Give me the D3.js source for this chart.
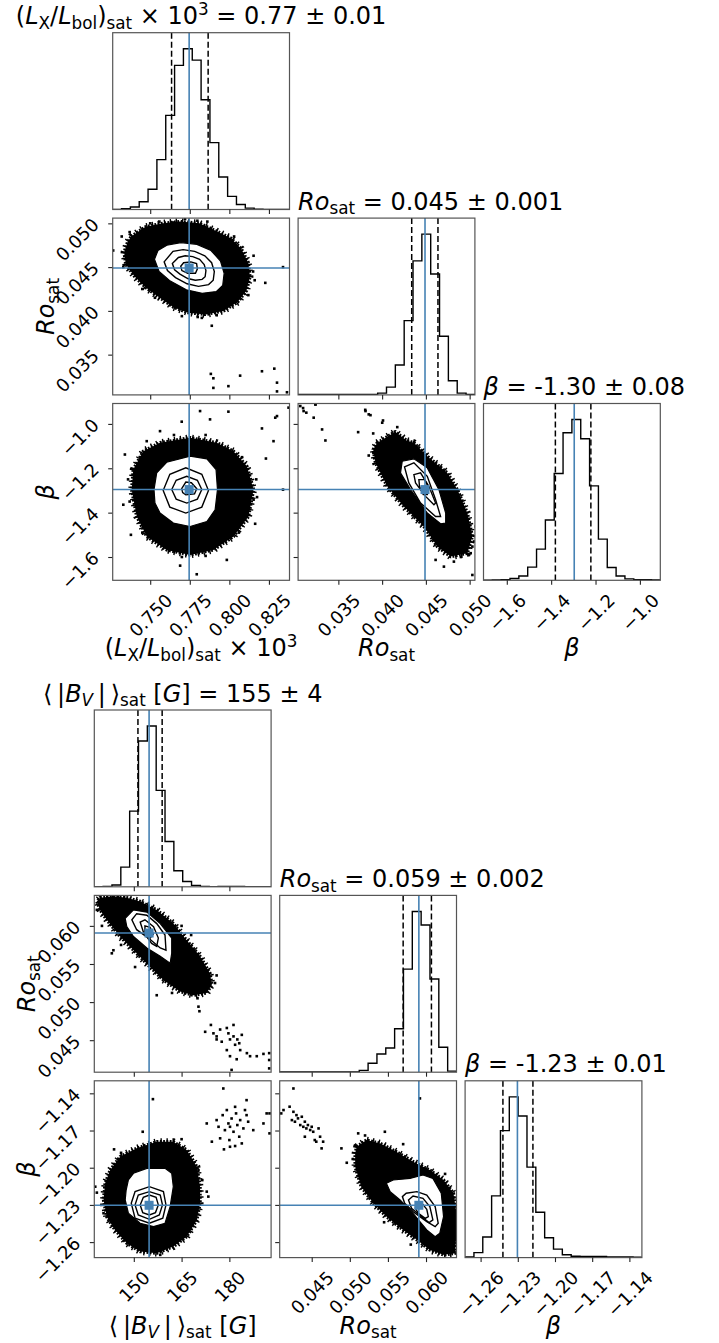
<!DOCTYPE html>
<html>
<head>
<meta charset="utf-8">
<script src="https://cdn.jsdelivr.net/npm/d3@7"></script>
<style>
  body { margin: 0; background: #fff; }
  svg { display: block; }
  text { font-family: 'DejaVu Sans', sans-serif; fill: #000; }
</style>
</head>
<body>
<svg id="chart" width="719" height="1343"></svg>
<script>
// Two corner plots (MCMC posteriors): saturated Lx/Lbol, Ro_sat, beta  /  <|B_V|>_sat, Ro_sat, beta

// ---------- top corner ----------
const rangeTop = [[0.7263, 0.8380], [0.0304, 0.0506], [-1.705, -0.908]];
const ticksTop = [[0.750, 0.775, 0.800, 0.825], [0.035, 0.040, 0.045, 0.050], [-1.6, -1.4, -1.2, -1.0]];
const tickTextTop = [["0.750", "0.775", "0.800", "0.825"], ["0.035", "0.040", "0.045", "0.050"], ["−1.6", "−1.4", "−1.2", "−1.0"]];
const histTopLx = [0, 2, 7, 22, 57, 141, 266, 407, 454, 422, 310, 189, 92, 37, 14, 4, 1, 0, 0, 0];
const histTopRo = [1, 1, 1, 1, 1, 1, 1, 1, 1, 5, 22, 84, 209, 377, 452, 340, 165, 40, 5, 1];
const histTopBeta = [0, 1, 2, 5, 12, 37, 88, 170, 301, 416, 453, 399, 266, 116, 36, 12, 4, 2, 2, 1];
const quantTop = [[0.7635, 0.7866], [0.04338, 0.04638], [-1.381, -1.221]];
const truthTop = [0.7746, 0.0449, -1.296];

const cloudTopLxRo = [[0.738,0.0485],[0.747,0.0496],[0.758,0.0500],[0.769,0.0502],[0.781,0.0500],[0.792,0.0491],[0.801,0.0483],[0.8075,0.0471],[0.812,0.0455],[0.813,0.0439],[0.8108,0.0423],[0.8052,0.0410],[0.7963,0.0400],[0.7851,0.0396],[0.7739,0.0398],[0.7649,0.0404],[0.756,0.0415],[0.747,0.0427],[0.7403,0.0439],[0.7346,0.0453],[0.7335,0.0467],[0.7358,0.0479]];
const whiteTopLxRo = [[0.7527,0.0459],[0.7549,0.0469],[0.7605,0.0475],[0.7694,0.0478],[0.7795,0.0476],[0.7884,0.0469],[0.7944,0.0457],[0.7967,0.0443],[0.7958,0.0429],[0.7917,0.0422],[0.7828,0.0420],[0.7728,0.0424],[0.7627,0.0434],[0.7556,0.0445]];
const contTopLxRo = [
  [[0.7588,0.0456],[0.7644,0.0468],[0.7708,0.0470],[0.7781,0.0468],[0.7845,0.0463],[0.7888,0.0455],[0.7905,0.0445],[0.7898,0.0435],[0.7869,0.0430],[0.7805,0.0428],[0.7733,0.0431],[0.7660,0.0438],[0.7609,0.0446]],
  [[0.7640,0.0454],[0.7678,0.0461],[0.7721,0.0463],[0.7769,0.0462],[0.7812,0.0459],[0.7841,0.0453],[0.7852,0.0446],[0.7847,0.0439],[0.7828,0.0436],[0.7785,0.0435],[0.7737,0.0437],[0.7688,0.0442],[0.7654,0.0447]],
  [[0.7693,0.0451],[0.7711,0.0455],[0.7757,0.0456],[0.7793,0.0454],[0.7798,0.0448],[0.7786,0.0443],[0.7737,0.0443],[0.7700,0.0446]]
];
const ptsTopLxRo = [[0.7883,0.0328],[0.7899,0.0323],[0.7994,0.0314],[0.8068,0.0326],[0.8206,0.0331],[0.8284,0.0334],[0.8301,0.0318],[0.7899,0.0312],[0.8364,0.0307],[0.8301,0.0308],[0.8339,0.0450],[0.8227,0.0432],[0.8153,0.0463],[0.7889,0.0383],[0.7826,0.0392],[0.7646,0.0501],[0.7798,0.0503],[0.7861,0.0502],[0.7558,0.0502],[0.7320,0.0485],[0.7266,0.0469],[0.7370,0.0490],[0.8150,0.0445],[0.8160,0.0435],[0.8120,0.0418],[0.7920,0.0395],[0.7800,0.0393],[0.7700,0.0394],[0.7530,0.0415],[0.7450,0.0425],[0.7330,0.0450],[0.8030,0.0485],[0.7720,0.0505],[0.7500,0.0500]];

const cloudTopLxBeta = [[0.7393,-1.2059],[0.7456,-1.1231],[0.7562,-1.0851],[0.7752,-1.0624],[0.7921,-1.0851],[0.8026,-1.1231],[0.8111,-1.1910],[0.8153,-1.2964],[0.8121,-1.4172],[0.8026,-1.5077],[0.7899,-1.5679],[0.7752,-1.5905],[0.7604,-1.5679],[0.7478,-1.5077],[0.7415,-1.4172],[0.7383,-1.2964]];
const whiteTopLxBeta = [[0.7524,-1.2964],[0.7541,-1.2208],[0.7604,-1.1729],[0.7752,-1.1457],[0.7858,-1.1575],[0.7916,-1.2059],[0.7925,-1.2964],[0.7910,-1.3869],[0.7858,-1.4398],[0.7752,-1.4624],[0.7646,-1.4471],[0.7562,-1.4018],[0.7530,-1.3566]];
const contTopLxBeta = [
  [[0.7582,-1.300],[0.7624,-1.227],[0.7725,-1.198],[0.7826,-1.227],[0.7868,-1.300],[0.7826,-1.375],[0.7725,-1.402],[0.7624,-1.375]],
  [[0.7636,-1.296],[0.7664,-1.254],[0.7731,-1.236],[0.7798,-1.254],[0.7826,-1.296],[0.7798,-1.339],[0.7731,-1.357],[0.7664,-1.339]],
  [[0.7699,-1.292],[0.7725,-1.262],[0.7760,-1.265],[0.7794,-1.292],[0.7780,-1.315],[0.7725,-1.320],[0.7705,-1.310]]
];
const ptsTopLxBeta = [[0.7815,-0.9421],[0.7878,-0.9796],[0.7994,-0.9448],[0.7699,-0.9900],[0.8290,-0.9719],[0.8301,-0.9647],[0.8374,-0.9267],[0.8206,-1.0204],[0.8279,-1.0778],[0.8231,-1.1561],[0.8339,-1.2964],[0.8153,-1.3416],[0.8163,-1.4502],[0.7984,-1.6131],[0.7794,-1.6778],[0.7689,-1.6389],[0.7330,-1.3643],[0.7378,-1.5000],[0.7478,-1.0778],[0.7562,-1.0326],[0.7340,-1.1380],[0.7360,-1.2500],[0.7370,-1.3500],[0.8170,-1.2500],[0.8175,-1.3300],[0.7650,-1.0500],[0.7850,-1.0500],[0.7700,-1.6000],[0.7850,-1.5950],[0.7440,-1.1500],[0.8080,-1.1500],[0.8060,-1.4900],[0.7450,-1.4900]];

const cloudTopRoBeta = [[0.03944,-1.0851],[0.0400,-1.072],[0.0415,-1.035],[0.0428,-1.075],[0.04363,-1.0851],[0.04516,-1.1457],[0.04745,-1.2208],[0.04860,-1.2964],[0.04974,-1.4018],[0.05031,-1.5077],[0.04974,-1.5828],[0.04783,-1.5982],[0.04631,-1.5529],[0.04477,-1.4624],[0.04248,-1.3719],[0.04058,-1.2814],[0.03924,-1.1756],[0.03898,-1.1154]];
const whiteTopRoBeta = [[0.0423,-1.1683],[0.04363,-1.1575],[0.04516,-1.1982],[0.04649,-1.2964],[0.04726,-1.4018],[0.04726,-1.4471],[0.04668,-1.4502],[0.04516,-1.4018],[0.04325,-1.2964],[0.0421,-1.2208]];
const contTopRoBeta = [
  [[0.04256,-1.1937],[0.04363,-1.1756],[0.04516,-1.2362],[0.04611,-1.3416],[0.04668,-1.4172],[0.04611,-1.4172],[0.04439,-1.3566],[0.04305,-1.2661]],
  [[0.04363,-1.2285],[0.04439,-1.2208],[0.04534,-1.2814],[0.04611,-1.3566],[0.04592,-1.3643],[0.04497,-1.3267],[0.04382,-1.2661]],
  [[0.04420,-1.2511],[0.04485,-1.2511],[0.04534,-1.2887],[0.04516,-1.3190],[0.04470,-1.3190],[0.04427,-1.2814]]
];
const ptsTopRoBeta = [[0.03065,-0.9195],[0.03103,-0.9421],[0.03134,-0.9493],[0.03237,-0.9118],[0.03218,-0.9719],[0.03314,-1.0249],[0.03352,-1.0747],[0.03726,-1.0371],[0.03810,-0.9421],[0.03847,-0.9570],[0.04001,-0.9946],[0.03847,-1.1425],[0.03898,-1.0430],[0.04173,-1.0145],[0.05069,-1.4624],[0.05031,-1.6810],[0.04706,-1.6434],[0.04611,-1.6131],[0.04820,-1.6208],[0.05012,-1.5828],[0.05031,-1.5530],[0.03097,-0.9286],[0.03239,-0.9126],[0.03807,-0.9366],[0.03867,-0.9606],[0.0401,-0.9846],[0.0390,-1.1300],[0.0505,-1.5300],[0.0490,-1.6000]];

// ---------- bottom corner ----------
const rangeBot = [[137.6, 193.1], [0.0408, 0.0640], [-1.2725, -1.1299]];
const ticksBot = [[150, 165, 180], [0.045, 0.050, 0.055, 0.060], [-1.26, -1.23, -1.20, -1.17, -1.14]];
const tickTextBot = [["150", "165", "180"], ["0.045", "0.050", "0.055", "0.060"], ["−1.26", "−1.23", "−1.20", "−1.17", "−1.14"]];
const histBotBv = [0, 1, 5, 55, 212, 408, 450, 270, 127, 45, 15, 4, 1, 0.5, 1, 1, 1, 0.5, 0, 0];
const histBotRo = [1, 1, 1, 1, 1, 1, 1, 1, 1, 5, 25, 51, 68, 122, 290, 452, 414, 262, 70, 3];
const histBotBeta = [2, 14, 58, 174, 358, 453, 399, 255, 128, 56, 24, 8, 4, 3, 3, 3, 2, 2, 2, 1];
const quantBot = [[151.3, 158.9], [0.05700, 0.06071], [-1.2420, -1.2178]];
const truthBot = [154.8, 0.05906, -1.2303];

const cloudBotBvRo = [[139.4,0.0637],[143.6,0.0639],[147.8,0.0637],[152.0,0.0632],[157.2,0.0621],[162.4,0.0603],[166.6,0.0581],[170.8,0.0560],[173.9,0.0538],[174.5,0.0523],[172.9,0.0512],[168.7,0.0509],[164.5,0.0514],[159.3,0.0529],[155.1,0.0546],[150.9,0.0564],[145.7,0.0586],[141.5,0.0608],[139.4,0.0621],[138.4,0.0632]];
const whiteBotBvRo = [[147.3,0.0610],[149.9,0.0621],[154.1,0.0618],[158.3,0.0603],[161.9,0.0584],[161.9,0.0564],[161.4,0.0551],[158.3,0.0560],[154.1,0.0571],[149.9,0.0586],[147.8,0.0599]];
const contBotBvRo = [
  [[149.4,0.0608],[150.9,0.0616],[154.1,0.0614],[157.2,0.0603],[159.8,0.0588],[160.1,0.0568],[158.3,0.0571],[154.6,0.0584],[150.9,0.0595]],
  [[152.0,0.0605],[153.5,0.0608],[156.2,0.0599],[157.7,0.0584],[157.2,0.0573],[155.6,0.0577],[153.0,0.0592]],
  [[153.5,0.0600],[155.1,0.0598],[156.1,0.0589],[155.1,0.0584],[153.5,0.0591]]
];
const ptsBotBvRo = [[174.2,0.0470],[175.0,0.0459],[176.0,0.0451],[177.1,0.0464],[177.6,0.0448],[179.2,0.0466],[179.7,0.0459],[180.2,0.0451],[181.3,0.0455],[181.8,0.0444],[182.5,0.0451],[183.1,0.0446],[183.4,0.0437],[179.2,0.0437],[180.2,0.0429],[182.3,0.0425],[185.5,0.0433],[186.5,0.0429],[188.6,0.0429],[190.7,0.0432],[192.5,0.0433],[192.5,0.0424],[192.5,0.0413],[180.7,0.0411],[176.0,0.0455],[183.9,0.0457],[181.3,0.0470],[172.4,0.0461],[143.6,0.0568],[143.1,0.0564],[150.4,0.0546],[157.2,0.0509],[170.3,0.0494],[170.6,0.0488],[173.9,0.0523],[173.4,0.0533],[138.4,0.0621],[176.0,0.0535],[175.5,0.0525],[170.0,0.0505],[162.0,0.0512],[146.0,0.0575],[140.0,0.0600],[165.0,0.0600],[168.0,0.0588]];

const cloudBotBvBeta = [[142.6,-1.2019],[145.7,-1.1911],[150.9,-1.1844],[157.2,-1.1791],[162.4,-1.1791],[166.6,-1.1857],[169.8,-1.1992],[170.8,-1.2153],[170.8,-1.2287],[169.8,-1.2421],[166.6,-1.2556],[162.4,-1.2636],[157.2,-1.2689],[152.0,-1.2676],[147.8,-1.2609],[144.1,-1.2502],[141.5,-1.2395],[140.5,-1.2260],[141.0,-1.2126]];
const whiteBotBvBeta = [[148.3,-1.2099],[149.9,-1.2045],[154.1,-1.2005],[159.8,-1.2005],[161.9,-1.2045],[162.4,-1.2153],[161.4,-1.2314],[159.8,-1.2448],[156.2,-1.2475],[152.0,-1.2448],[148.3,-1.2367],[147.3,-1.2260],[147.6,-1.2180]];
const contBotBvBeta = [
  [[149.2,-1.2287],[150.4,-1.2193],[154.9,-1.2153],[159.3,-1.2193],[160.1,-1.2300],[159.1,-1.2407],[154.9,-1.2448],[150.4,-1.2407]],
  [[150.4,-1.2300],[151.4,-1.2220],[154.9,-1.2193],[158.3,-1.2220],[159.0,-1.2300],[158.0,-1.2381],[154.9,-1.2416],[151.4,-1.2381]],
  [[152.0,-1.2300],[153.0,-1.2238],[154.9,-1.2220],[157.0,-1.2238],[157.7,-1.2300],[156.8,-1.2362],[154.9,-1.2381],[152.8,-1.2362]]
];
const ptsBotBvBeta = [[172.9,-1.1643],[174.5,-1.1790],[176.0,-1.1616],[176.6,-1.1670],[177.1,-1.1763],[177.9,-1.1576],[178.3,-1.1852],[178.6,-1.1697],[179.2,-1.1535],[179.7,-1.1643],[180.0,-1.1777],[180.2,-1.1670],[180.7,-1.1603],[181.3,-1.1710],[181.8,-1.1509],[182.1,-1.1562],[182.5,-1.1656],[183.1,-1.1750],[183.4,-1.1616],[183.9,-1.1804],[184.4,-1.1683],[184.9,-1.1535],[185.4,-1.1576],[185.9,-1.1629],[187.5,-1.1697],[190.7,-1.1643],[191.7,-1.1562],[192.6,-1.1562],[192.6,-1.1723],[178.1,-1.1361],[185.4,-1.1455],[181.8,-1.1825],[180.2,-1.1831],[156.0,-1.1447],[152.8,-1.1710],[143.8,-1.1852],[137.9,-1.2153],[138.4,-1.2201],[140.5,-1.2367],[170.3,-1.2019],[173.4,-1.2233],[172.9,-1.2193],[158.3,-1.2703],[146.0,-1.1880],[165.0,-1.1770],[171.5,-1.2100],[139.8,-1.2300]];

const cloudBotRoBeta = [[0.0509,-1.1831],[0.0522,-1.1777],[0.0540,-1.1804],[0.0561,-1.1871],[0.0583,-1.1951],[0.0605,-1.2019],[0.0623,-1.2099],[0.0636,-1.2206],[0.0640,-1.2368],[0.0640,-1.2529],[0.0638,-1.2690],[0.0623,-1.2703],[0.0605,-1.2663],[0.0588,-1.2582],[0.0570,-1.2502],[0.0548,-1.2394],[0.0531,-1.2287],[0.0515,-1.2153],[0.0507,-1.1992],[0.0507,-1.1884]];
const whiteBotRoBeta = [[0.0548,-1.2126],[0.0557,-1.2099],[0.0579,-1.2086],[0.0596,-1.2059],[0.0609,-1.2086],[0.0620,-1.2206],[0.0623,-1.2394],[0.0618,-1.2529],[0.0612,-1.2556],[0.0601,-1.2502],[0.0583,-1.2368],[0.0566,-1.2260],[0.0553,-1.2193]];
const contBotRoBeta = [
  [[0.0569,-1.2233],[0.0574,-1.2206],[0.0588,-1.2193],[0.0601,-1.2220],[0.0612,-1.2314],[0.0616,-1.2448],[0.0612,-1.2475],[0.0601,-1.2435],[0.0583,-1.2354],[0.0572,-1.2287]],
  [[0.0577,-1.2260],[0.0583,-1.2228],[0.0596,-1.2247],[0.0605,-1.2314],[0.0609,-1.2421],[0.0604,-1.2443],[0.0594,-1.2394],[0.0581,-1.2327]],
  [[0.0587,-1.2287],[0.0594,-1.2282],[0.0601,-1.2335],[0.0603,-1.2394],[0.0599,-1.2408],[0.0590,-1.2368],[0.0586,-1.2327]]
];
const ptsBotRoBeta = [[0.0410,-1.1562],[0.0421,-1.1508],[0.0424,-1.1616],[0.0426,-1.1549],[0.0428,-1.1629],[0.0430,-1.1576],[0.0432,-1.1602],[0.0435,-1.1656],[0.0437,-1.1589],[0.0439,-1.1670],[0.0441,-1.1629],[0.0443,-1.1683],[0.0445,-1.1656],[0.0448,-1.1696],[0.0450,-1.1670],[0.0452,-1.1710],[0.0454,-1.1777],[0.0456,-1.1790],[0.0459,-1.1683],[0.0461,-1.1750],[0.0463,-1.1844],[0.0465,-1.1790],[0.0441,-1.1750],[0.0426,-1.1361],[0.0413,-1.1535],[0.0489,-1.1844],[0.0496,-1.1960],[0.0511,-1.1723],[0.0546,-1.1710],[0.0592,-1.1441],[0.0640,-1.2421],[0.0504,-1.1930],[0.0520,-1.1740],[0.0570,-1.1810],[0.0625,-1.2050],[0.0545,-1.2440],[0.0580,-1.2620]];

// ---------- labels (math segments: i = italic, sub/isub = subscript, sup = superscript) ----------
const labLx = [["("], ["L", "i"], ["X", "sub"], ["/"], ["L", "i"], ["bol", "sub"], [")"], ["sat", "sub"], [" × 10"], ["3", "sup"]];
const labRo = [["Ro", "i"], ["sat", "sub"]];
const labBeta = [["β", "i"]];
const labBv = [["⟨\u2009|"], ["B", "i"], ["V", "isub"], ["\u2009|\u2009⟩"], ["sat", "sub"], [" ["], ["G", "i"], ["]"]];
const titleTop = [" = 0.77 ± 0.01", " = 0.045 ± 0.001", " = -1.30 ± 0.08"];
const titleBot = [" = 155 ± 4", " = 0.059 ± 0.002", " = -1.23 ± 0.01"];

// ---------- drawing ----------
const P = 176.8, STEP = 185.4;
const FS = 24, TFS = 18;
const BLUE = "#4682b4", FRAME = "#555";
const svg = d3.select("#chart");
const defs = svg.append("defs");
let clipN = 0;

function rich(sel, segs, fs) {
  let off = 0;
  segs.forEach(([t, s]) => {
    const sub = s === "sub" || s === "isub", sup = s === "sup";
    const target = sub ? 0.2 * fs : sup ? -0.4 * fs : 0;
    sel.append("tspan").text(t)
      .attr("dy", target - off)
      .style("font-size", (sub || sup ? 0.7 * fs : fs) + "px")
      .style("font-style", s === "i" || s === "isub" ? "italic" : "normal");
    off = target;
  });
}

function drawCorner(c) {
  const n = 3;
  const sx = c.ranges.map(r => d3.scaleLinear().domain(r).range([0, P]));
  const sy = c.ranges.map(r => d3.scaleLinear().domain(r).range([P, 0]));
  const root = svg.append("g");

  for (let i = 0; i < n; i++) for (let j = 0; j <= i; j++) {
    const px = c.x0 + j * STEP, py = c.y0 + i * STEP;
    const pg = root.append("g").attr("transform", `translate(${px},${py})`);
    const id = "clip" + (clipN++);
    defs.append("clipPath").attr("id", id).append("rect").attr("width", P).attr("height", P);
    const body = pg.append("g").attr("clip-path", `url(#${id})`);
    const x = sx[j];

    if (i === j) {
      const counts = c.hists[i];
      const [lo, hi] = c.ranges[i];
      const edges = d3.range(counts.length + 1).map(k => lo + k * (hi - lo) / counts.length);
      const hy = d3.scaleLinear().domain([0, 1.1 * d3.max(counts)]).range([P, 0]);
      const pts = [[edges[0], 0], ...counts.map((v, k) => [edges[k], v]), [edges[counts.length], 0]];
      body.append("path")
        .attr("d", d3.line().x(d => x(d[0])).y(d => hy(d[1])).curve(d3.curveStepAfter)(pts))
        .attr("fill", "none").attr("stroke", "#000").attr("stroke-width", 1.4);
      body.selectAll("line.q").data(c.quant[i]).join("line").attr("class", "q")
        .attr("x1", d => x(d)).attr("x2", d => x(d)).attr("y1", 0).attr("y2", P)
        .attr("stroke", "#000").attr("stroke-width", 1.5).attr("stroke-dasharray", "6,3");
      body.append("line")
        .attr("x1", x(c.truth[i])).attr("x2", x(c.truth[i])).attr("y1", 0).attr("y2", P)
        .attr("stroke", BLUE).attr("stroke-width", 1.6);
      // title
      const t = pg.append("text").attr("y", -8.5)
        .attr("x", i === 0 ? P / 2 : 0)
        .attr("text-anchor", i === 0 ? "middle" : "start");
      rich(t, c.labels[i].concat([[c.titles[i]]]), FS);
    } else {
      const y = sy[i];
      const pr = c.pairs[`${i}${j}`];
      const poly = d3.line().x(d => x(d[0])).y(d => y(d[1])).curve(d3.curveLinearClosed);
      // dense sample cloud, with a ragged dotted rim
      body.append("path").attr("d", poly(pr.cloud))
        .attr("fill", "none").attr("stroke", "#000").attr("stroke-width", 7)
        .attr("stroke-dasharray", "1.4,4.6");
      body.append("path").attr("d", poly(pr.cloud))
        .attr("fill", "#000").attr("stroke", "#000").attr("stroke-width", 3.4)
        .attr("stroke-dasharray", "1.8,1.5").attr("stroke-linejoin", "round");
      body.selectAll("rect.pt").data(pr.pts).join("rect").attr("class", "pt")
        .attr("x", d => x(d[0]) - 1.3).attr("y", d => y(d[1]) - 1.3)
        .attr("width", 2.6).attr("height", 2.6).attr("fill", "#000");
      body.append("path").attr("d", poly(pr.white))
        .attr("fill", "#fff").attr("stroke", "#000").attr("stroke-width", 1.2);
      body.selectAll("path.ct").data(pr.cont).join("path").attr("class", "ct")
        .attr("d", poly).attr("fill", "none").attr("stroke", "#000").attr("stroke-width", 1.4);
      body.append("line").attr("x1", x(c.truth[j])).attr("x2", x(c.truth[j])).attr("y1", 0).attr("y2", P)
        .attr("stroke", BLUE).attr("stroke-width", 1.6);
      body.append("line").attr("y1", y(c.truth[i])).attr("y2", y(c.truth[i])).attr("x1", 0).attr("x2", P)
        .attr("stroke", BLUE).attr("stroke-width", 1.6);
      body.append("rect").attr("x", x(c.truth[j]) - 4.5).attr("y", y(c.truth[i]) - 4.5)
        .attr("width", 9).attr("height", 9).attr("fill", BLUE);

      // y ticks
      const ay = pg.append("g").call(d3.axisLeft(y).tickValues(c.ticks[i]).tickSize(4.5)
        .tickFormat(j === 0 ? (d, k) => c.tickText[i][k] : ""));
      ay.select(".domain").remove();
      ay.selectAll("line").attr("stroke", "#222").attr("stroke-width", 1.1);
      ay.selectAll("text").attr("x", 0).attr("dy", null).attr("text-anchor", "end")
        .style("font-size", TFS + "px").style("font-family", "'DejaVu Sans', sans-serif")
        .attr("transform", "translate(-12.7,2) rotate(-45)");
    }

    pg.append("rect").attr("width", P).attr("height", P)
      .attr("fill", "none").attr("stroke", FRAME).attr("stroke-width", 1.2);

    // x ticks
    const ax = pg.append("g").attr("transform", `translate(0,${P})`)
      .call(d3.axisBottom(x).tickValues(c.ticks[j]).tickSize(4.5)
        .tickFormat(i === n - 1 ? (d, k) => c.tickText[j][k] : ""));
    ax.select(".domain").remove();
    ax.selectAll("line").attr("stroke", "#222").attr("stroke-width", 1.1);
    ax.selectAll("text").attr("y", 0).attr("dy", null)
      .attr("text-anchor", "middle").attr("dominant-baseline", "central")
      .style("font-size", TFS + "px").style("font-family", "'DejaVu Sans', sans-serif")
      .attr("transform", function () {
        const L = this.getComputedTextLength();
        return `translate(0,${12 + (L + 0.74 * TFS) / (2 * Math.SQRT2)}) rotate(-45)`;
      });
  }

  // axis labels
  for (let j = 0; j < n; j++) {
    const t = root.append("text").attr("text-anchor", "middle")
      .attr("x", c.x0 + j * STEP + P / 2).attr("y", c.y0 + 2 * STEP + P + 76);
    rich(t, c.labels[j], FS);
  }
  for (let i = 1; i < n; i++) {
    const t = root.append("text").attr("text-anchor", "middle")
      .attr("transform", `translate(${c.x0 - 59},${c.y0 + i * STEP + P / 2}) rotate(-90)`);
    rich(t, c.labels[i], FS);
  }
}

drawCorner({
  x0: 112.7, y0: 32.7,
  ranges: rangeTop, ticks: ticksTop, tickText: tickTextTop,
  hists: [histTopLx, histTopRo, histTopBeta], quant: quantTop, truth: truthTop,
  labels: [labLx, labRo, labBeta], titles: titleTop,
  pairs: {
    "10": { cloud: cloudTopLxRo, white: whiteTopLxRo, cont: contTopLxRo, pts: ptsTopLxRo },
    "20": { cloud: cloudTopLxBeta, white: whiteTopLxBeta, cont: contTopLxBeta, pts: ptsTopLxBeta },
    "21": { cloud: cloudTopRoBeta, white: whiteTopRoBeta, cont: contTopRoBeta, pts: ptsTopRoBeta }
  }
});

drawCorner({
  x0: 94.3, y0: 710,
  ranges: rangeBot, ticks: ticksBot, tickText: tickTextBot,
  hists: [histBotBv, histBotRo, histBotBeta], quant: quantBot, truth: truthBot,
  labels: [labBv, labRo, labBeta], titles: titleBot,
  pairs: {
    "10": { cloud: cloudBotBvRo, white: whiteBotBvRo, cont: contBotBvRo, pts: ptsBotBvRo },
    "20": { cloud: cloudBotBvBeta, white: whiteBotBvBeta, cont: contBotBvBeta, pts: ptsBotBvBeta },
    "21": { cloud: cloudBotRoBeta, white: whiteBotRoBeta, cont: contBotRoBeta, pts: ptsBotRoBeta }
  }
});
</script>
</body>
</html>
